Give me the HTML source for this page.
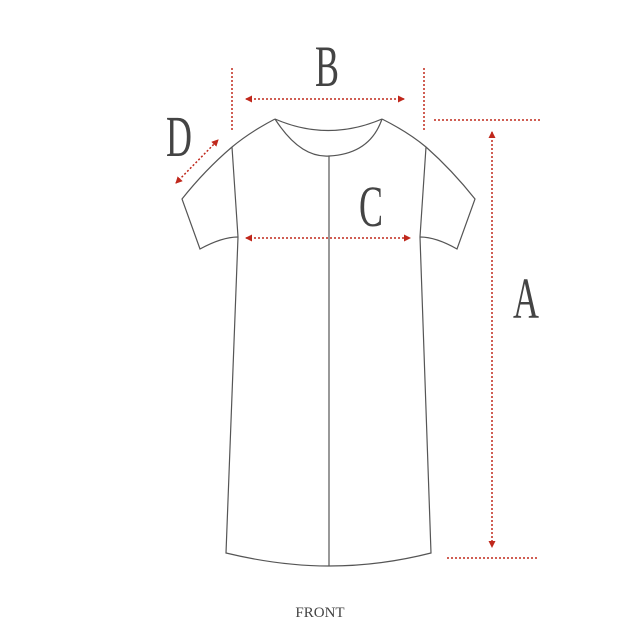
<!DOCTYPE html>
<html><head><meta charset="utf-8"><style>
html,body{margin:0;padding:0;background:#fff;}
svg{display:block;}
.t{font-family:"Liberation Serif",serif;fill:#444;}
</style></head><body>
<svg width="640" height="640" viewBox="0 0 640 640" xmlns="http://www.w3.org/2000/svg">
<defs>
<marker id="ar" markerWidth="7" markerHeight="7" refX="6" refY="3.5" orient="auto" markerUnits="userSpaceOnUse">
<path d="M0,0 L7,3.5 L0,7 Z" fill="#c0281c"/></marker>
<marker id="al" markerWidth="7" markerHeight="7" refX="1" refY="3.5" orient="auto" markerUnits="userSpaceOnUse">
<path d="M7,0 L0,3.5 L7,7 Z" fill="#c0281c"/></marker>
</defs>
<g fill="none" stroke="#555" stroke-width="1.2">
<path d="M275,119 Q328,142 382,119"/>
<path d="M275,119 Q300,158 329,156 Q370,154 382,119"/>
<path d="M275,119 Q250,132 232,147 Q205,170 182,199 L200,249 Q222,237 238,237"/>
<path d="M382,119 Q408,132 426,147 Q452,170 475,199 L457,249 Q436,237 420,237"/>
<path d="M232,147 L238,237 L226,553 Q280,566 329,566 Q380,566 431,553 L420,237 L426,147"/>
<path d="M329,156 L329,566"/>
</g>
<g stroke="#c0281c" stroke-width="1.5" stroke-dasharray="2,2" fill="none">
<line x1="232" y1="68" x2="232" y2="130"/>
<line x1="424" y1="68" x2="424" y2="130"/>
<line x1="246" y1="99" x2="404" y2="99" marker-start="url(#al)" marker-end="url(#ar)"/>
<line x1="246" y1="238" x2="410" y2="238" marker-start="url(#al)" marker-end="url(#ar)"/>
<line x1="176" y1="183" x2="218" y2="140" marker-start="url(#al)" marker-end="url(#ar)"/>
<line x1="434" y1="120" x2="542" y2="120"/>
<line x1="447" y1="558" x2="537" y2="558"/>
<line x1="492" y1="132" x2="492" y2="547" marker-start="url(#al)" marker-end="url(#ar)"/>
</g>
<text class="t" x="327" y="86" font-size="58" text-anchor="middle" transform="translate(327 0) scale(0.62 1) translate(-327 0)">B</text>
<text class="t" x="179" y="156" font-size="58" text-anchor="middle" transform="translate(179 0) scale(0.62 1) translate(-179 0)">D</text>
<text class="t" x="371" y="226" font-size="58" text-anchor="middle" transform="translate(371 0) scale(0.62 1) translate(-371 0)">C</text>
<text class="t" x="526" y="318" font-size="58" text-anchor="middle" transform="translate(526 0) scale(0.62 1) translate(-526 0)">A</text>
<text class="t" x="320" y="617" font-size="15" text-anchor="middle" fill="#333">FRONT</text>
</svg>
</body></html>
